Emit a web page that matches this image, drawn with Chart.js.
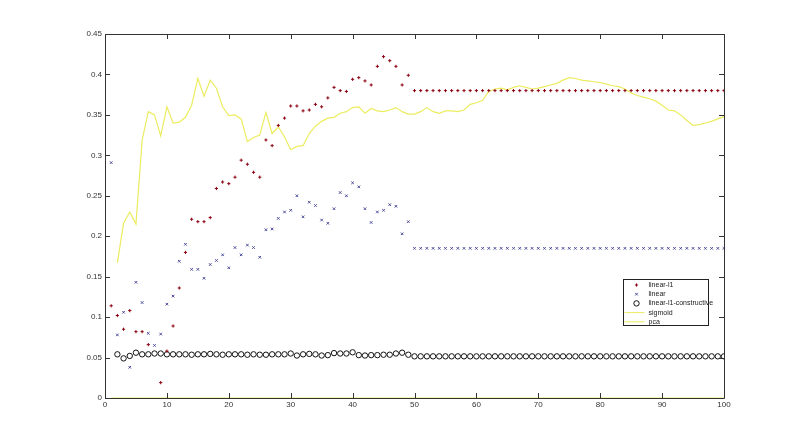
<!DOCTYPE html>
<html>
<head>
<meta charset="utf-8">
<script src="https://cdn.jsdelivr.net/npm/chart.js@4"></script>
<style>
body { margin: 0; background: #fff; }
#wrap { width: 800px; height: 448px; position: relative; }
</style>
</head>
<body>
<div id="wrap"><canvas id="c"></canvas></div>
<script>
// values for x = 1..100 (null = no point)
const linearL1 = [
  0.114, 0.102, 0.085, 0.108, 0.082, 0.082, 0.066, null, 0.019, 0.058,
  0.089, 0.136, 0.180, 0.221, 0.218, 0.218, 0.223, 0.259, 0.267, 0.265,
  0.273, 0.294, 0.289, 0.279, 0.273, 0.319, 0.312, 0.337, 0.346, 0.361,
  0.361, 0.355, 0.356, 0.363, 0.360, 0.371, 0.384, 0.380, 0.379, 0.394,
  0.396, 0.392, 0.387, 0.410, 0.422, 0.417, 0.410, 0.387, 0.399, 0.380,
  0.380, 0.380, 0.380, 0.380, 0.380, 0.380, 0.380, 0.380, 0.380, 0.380,
  0.380, 0.380, 0.380, 0.380, 0.380, 0.380, 0.380, 0.380, 0.380, 0.380,
  0.380, 0.380, 0.380, 0.380, 0.380, 0.380, 0.380, 0.380, 0.380, 0.380,
  0.380, 0.380, 0.380, 0.380, 0.380, 0.380, 0.380, 0.380, 0.380, 0.380,
  0.380, 0.380, 0.380, 0.380, 0.380, 0.380, 0.380, 0.380, 0.380, 0.380
];
const linear = [
  0.291, 0.078, 0.106, 0.038, 0.143, 0.118, 0.080, 0.065, 0.079, 0.116,
  0.126, 0.169, 0.190, 0.159, 0.159, 0.148, 0.165, 0.170, 0.177, 0.161,
  0.186, 0.177, 0.189, 0.186, 0.174, 0.208, 0.209, 0.222, 0.230, 0.232,
  0.250, 0.224, 0.242, 0.238, 0.220, 0.216, 0.234, 0.254, 0.250, 0.266,
  0.261, 0.234, 0.217, 0.230, 0.232, 0.239, 0.237, 0.203, 0.218, 0.185,
  0.185, 0.185, 0.185, 0.185, 0.185, 0.185, 0.185, 0.185, 0.185, 0.185,
  0.185, 0.185, 0.185, 0.185, 0.185, 0.185, 0.185, 0.185, 0.185, 0.185,
  0.185, 0.185, 0.185, 0.185, 0.185, 0.185, 0.185, 0.185, 0.185, 0.185,
  0.185, 0.185, 0.185, 0.185, 0.185, 0.185, 0.185, 0.185, 0.185, 0.185,
  0.185, 0.185, 0.185, 0.185, 0.185, 0.185, 0.185, 0.185, 0.185, 0.185
];
const constructive = [
  null, 0.054, 0.049, 0.052, 0.056, 0.054, 0.054, 0.055, 0.055, 0.054,
  0.054, 0.054, 0.054, 0.0535, 0.054, 0.054, 0.0545, 0.054, 0.0535, 0.054,
  0.054, 0.054, 0.0535, 0.054, 0.0535, 0.0535, 0.054, 0.054, 0.054, 0.055,
  0.0525, 0.054, 0.0545, 0.054, 0.0525, 0.053, 0.0555, 0.055, 0.055, 0.0565,
  0.053, 0.0525, 0.053, 0.053, 0.0535, 0.0535, 0.055, 0.056, 0.0535, 0.0515,
  0.0515, 0.0515, 0.0515, 0.0515, 0.0515, 0.0515, 0.0515, 0.0515, 0.0515, 0.0515,
  0.0515, 0.0515, 0.0515, 0.0515, 0.0515, 0.0515, 0.0515, 0.0515, 0.0515, 0.0515,
  0.0515, 0.0515, 0.0515, 0.0515, 0.0515, 0.0515, 0.0515, 0.0515, 0.0515, 0.0515,
  0.0515, 0.0515, 0.0515, 0.0515, 0.0515, 0.0515, 0.0515, 0.0515, 0.0515, 0.0515,
  0.0515, 0.0515, 0.0515, 0.0515, 0.0515, 0.0515, 0.0515, 0.0515, 0.0515, 0.0515
];
const sigmoid = [
  0, 0, 0, 0, 0, 0, 0, 0, 0, 0,
  0, 0, 0, 0, 0, 0, 0, 0, 0, 0,
  0, 0, 0, 0, 0, 0, 0, 0, 0, 0,
  0, 0, 0, 0, 0, 0, 0, 0, 0, 0,
  0, 0, 0, 0, 0, 0, 0, 0, 0, 0,
  0, 0, 0, 0, 0, 0, 0, 0, 0, 0,
  0, 0, 0, 0, 0, 0, 0, 0, 0, 0,
  0, 0, 0, 0, 0, 0, 0, 0, 0, 0,
  0, 0, 0, 0, 0, 0, 0, 0, 0, 0,
  0, 0, 0, 0, 0, 0, 0, 0, 0, 0
];
const pca = [
  null, 0.167, 0.216, 0.230, 0.215, 0.319, 0.354, 0.350, 0.324, 0.360,
  0.340, 0.341, 0.347, 0.362, 0.395, 0.373, 0.393, 0.383, 0.360, 0.349,
  0.350, 0.345, 0.317, 0.322, 0.325, 0.353, 0.327, 0.335, 0.323, 0.307,
  0.311, 0.312, 0.327, 0.336, 0.342, 0.346, 0.347, 0.352, 0.354, 0.359,
  0.360, 0.352, 0.358, 0.355, 0.354, 0.356, 0.359, 0.354, 0.351, 0.351,
  0.354, 0.359, 0.354, 0.352, 0.355, 0.355, 0.354, 0.356, 0.363, 0.365,
  0.368, 0.379, 0.382, 0.383, 0.381, 0.384, 0.386, 0.384, 0.382, 0.383,
  0.385, 0.387, 0.389, 0.393, 0.396, 0.395, 0.393, 0.392, 0.391, 0.390,
  0.388, 0.386, 0.385, 0.382, 0.377, 0.374, 0.372, 0.370, 0.367, 0.362,
  0.356, 0.355, 0.350, 0.343, 0.337, 0.338, 0.340, 0.342, 0.345, 0.348
];
const seriesNames = ["linear-l1", "linear", "linear-l1-constructive", "sigmoid", "pca"];

function pts(arr) {
  return arr.map((v, i) => ({ x: i + 1, y: v }));
}

// matlab style box with inward ticks on all sides, plus the legend box
const boxTicks = {
  id: "boxTicks",
  afterDraw(chart) {
    const ctx = chart.ctx, a = chart.chartArea;
    const xs = chart.scales.x, ys = chart.scales.y;
    ctx.save();
    ctx.strokeStyle = "#333";
    ctx.lineWidth = 1;
    ctx.beginPath();
    ctx.rect(Math.round(a.left) + 0.5, Math.round(a.top) + 0.5,
      Math.round(a.right - a.left), Math.round(a.bottom - a.top));
    xs.ticks.forEach(t => {
      const px = Math.round(xs.getPixelForValue(t.value)) + 0.5;
      ctx.moveTo(px, a.bottom); ctx.lineTo(px, a.bottom - 5);
      ctx.moveTo(px, a.top); ctx.lineTo(px, a.top + 5);
    });
    ys.ticks.forEach(t => {
      const py = Math.round(ys.getPixelForValue(t.value)) + 0.5;
      ctx.moveTo(a.left, py); ctx.lineTo(a.left + 5, py);
      ctx.moveTo(a.right, py); ctx.lineTo(a.right - 5, py);
    });
    ctx.stroke();

    const bx = Math.round(a.right) - 100.5, by = Math.round(a.bottom) - 118.5;
    const bw = 85, bh = 46;
    ctx.fillStyle = "#fff";
    ctx.fillRect(bx, by, bw, bh);
    ctx.strokeStyle = "#222";
    ctx.strokeRect(bx, by, bw, bh);
    ctx.font = "7px 'Liberation Sans', Arial, sans-serif";
    ctx.textBaseline = "middle";
    chart.data.datasets.forEach((ds, i) => {
      const ry = by + 5.5 + i * 9.2;
      ctx.strokeStyle = ds.borderColor;
      ctx.fillStyle = ds.backgroundColor;
      ctx.lineWidth = 1;
      if (ds.showLine) {
        ctx.beginPath(); ctx.moveTo(bx + 1, ry); ctx.lineTo(bx + 21, ry); ctx.stroke();
      } else {
        Chart.helpers.drawPoint(ctx, {
          pointStyle: ds.pointStyle, radius: ds.pointRadius, borderWidth: 1
        }, bx + 13, ry);
      }
      ctx.fillStyle = "#222";
      ctx.fillText(ds.label, bx + 25, ry);
    });
    ctx.restore();
  }
};

new Chart(document.getElementById("c"), {
  type: "line",
  data: {
    datasets: [
      { label: seriesNames[0], data: pts(linearL1), showLine: false,
        pointStyle: "cross", pointRadius: 1.6, borderWidth: 1,
        borderColor: "#8a0010", backgroundColor: "#8a0010" },
      { label: seriesNames[1], data: pts(linear), showLine: false,
        pointStyle: "crossRot", pointRadius: 1.8, borderWidth: 1,
        borderColor: "#4a4a9a", backgroundColor: "#4a4a9a" },
      { label: seriesNames[2], data: pts(constructive), showLine: false,
        pointStyle: "circle", pointRadius: 2.7, borderWidth: 1,
        borderColor: "#111", backgroundColor: "rgba(0,0,0,0)" },
      { label: seriesNames[3], data: pts(sigmoid), showLine: true,
        pointRadius: 0, borderWidth: 1.2,
        borderColor: "#ecec60", backgroundColor: "#ecec60" },
      { label: seriesNames[4], data: pts(pca), showLine: true,
        pointRadius: 0, borderWidth: 1.2, tension: 0,
        borderColor: "#ecec60", backgroundColor: "#ecec60" }
    ]
  },
  options: {
    responsive: true,
    maintainAspectRatio: false,
    animation: false,
    spanGaps: false,
    layout: { padding: { top: 34, right: 76, left: 0, bottom: 0 } },
    plugins: { legend: { display: false }, tooltip: { enabled: false } },
    scales: {
      x: {
        type: "linear", min: 0, max: 100,
        grid: { display: false, drawTicks: false },
        border: { display: false },
        ticks: { stepSize: 10, padding: 2, color: "#333",
          font: { family: "'Liberation Sans', Arial, sans-serif", size: 8 } },
        afterFit: s => { s.height = 50; }
      },
      y: {
        min: 0, max: 0.45,
        grid: { display: false, drawTicks: false },
        border: { display: false },
        ticks: { stepSize: 0.05, padding: 3, color: "#333",
          font: { family: "'Liberation Sans', Arial, sans-serif", size: 8 },
          callback: v => String(Number(v.toFixed(2))) },
        afterFit: s => { s.width = 105; }
      }
    }
  },
  plugins: [boxTicks]
});
</script>
</body>
</html>
